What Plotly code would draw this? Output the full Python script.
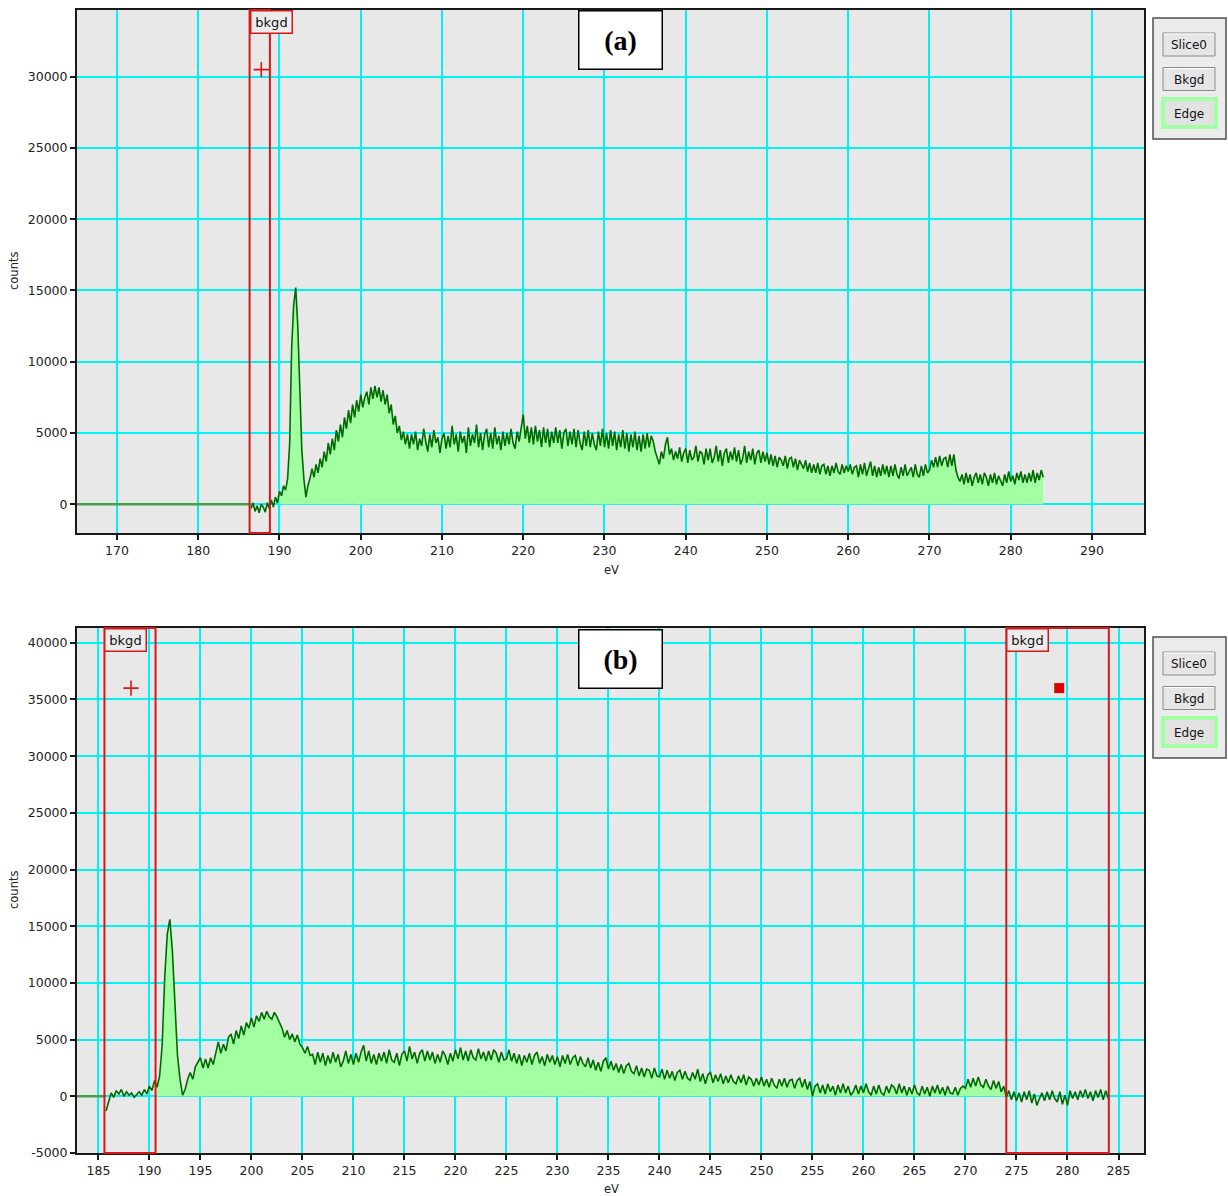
import numpy as np
import plotly.graph_objects as go

W, H = 1228, 1196          # target picture size
FIG_H = 1203               # figure height (capture is squeezed to H)

# ---------------- data ----------------
energy_step = 0.25

# panel (a): raw spectrum, first channel at 186.5 eV
energy_start_a = 186.5
counts_a = [
    -300, 100,
    -500, -100, -600, 0,
    -200, -550, 100, -300,
    300, -200, 500, 100,
    900, 600, 1300, 1000,
    1800, 4200, 11000, 14000,
    15200, 12500, 8200, 3800,
    1800, 500, 1300, 1800,
    2500, 1900, 2800, 2200,
    3200, 2600, 3700, 3000,
    4300, 3500, 4600, 3800,
    5200, 4400, 5600, 4700,
    6100, 5300, 6600, 5700,
    7000, 6100, 7300, 6500,
    7700, 6800, 7500, 7900,
    7000, 8200, 7400, 8300,
    7500, 8200, 7200, 8000,
    7000, 7700, 6400, 7000,
    5600, 6200, 5000, 5500,
    4500, 5100, 4200, 4900,
    3900, 4900, 4200, 5100,
    3800, 4600, 4100, 5300,
    4400, 3700, 4900, 4000,
    5200, 4300, 4700, 3600,
    4600, 5000, 3900, 4800,
    4000, 5500, 4200, 4900,
    3700, 5100, 4300, 4800,
    3600, 5400, 4100, 4900,
    4300, 5600, 4000, 5000,
    3800, 4900, 5300, 4000,
    5000, 3900, 5400, 4200,
    4800, 3800, 5100, 4100,
    5000, 4200, 5300, 4300,
    3900, 5100, 4400, 5400,
    6300, 4600, 5500, 4300,
    5400, 4200, 5500, 4400,
    5200, 4000, 5400, 4300,
    5300, 4000, 5100, 4300,
    5400, 4300, 5200, 3900,
    5000, 5300, 4100, 5100,
    4200, 5300, 4000, 5200,
    4300, 3800, 5100, 4100,
    5200, 4000, 5000, 4200,
    3800, 5100, 4100, 5300,
    4000, 5000, 3900, 5200,
    4100, 5100, 3800, 4900,
    4000, 5200, 3900, 5000,
    3700, 4900, 4000, 5100,
    3800, 4800, 3700, 4900,
    3900, 5000, 4000, 4800,
    4400, 3700, 3300, 2800,
    3700, 3200, 4200, 4700,
    3500, 3900, 3100, 3700,
    3200, 4000, 3000, 3600,
    3900, 2900, 3800, 3100,
    3300, 4100, 3000, 3700,
    3600, 2800, 3900, 3100,
    3900, 2900, 3300, 4100,
    3000, 3800, 2700, 3600,
    3900, 2900, 3700, 3100,
    4000, 3000, 3800, 2800,
    3200, 4100, 2900, 3700,
    3100, 3900, 2800, 3600,
    3800, 2900, 3700, 3000,
    3600, 2800, 3500, 2700,
    3400, 2600, 3300, 3100,
    2700, 3400, 2500, 3200,
    3300, 2600, 3200, 2400,
    3100, 2800, 2500, 3100,
    2300, 2900, 2200, 2800,
    2200, 2900, 2100, 2700,
    2800, 2100, 2700, 2000,
    2700, 2200, 2900, 2300,
    2100, 2800, 2200, 2700,
    2300, 2800, 2100, 2600,
    2700, 1900, 2800, 2100,
    2900, 2000, 2600, 3000,
    2000, 2700, 1900, 2600,
    2000, 2800, 2100, 2700,
    1900, 2700, 2000, 2800,
    2100, 1800, 2600, 2000,
    2800, 2000, 2300, 2600,
    1900, 2800, 2100, 1900,
    2700, 2000, 2800, 2200,
    2400, 3100, 2600, 3300,
    2600, 3400, 2700, 3200,
    3300, 2600, 3500, 2700,
    3500, 2400, 1900, 1600,
    2100, 1400, 2200, 1500,
    2100, 1300, 1900, 2200,
    1500, 2100, 1400, 2200,
    1900, 1300, 2100, 1500,
    2200, 1400, 2000, 1700,
    1300, 2100, 1500, 2300,
    1600, 2000, 1400, 2200,
    1700, 2300, 1500, 2100,
    1500, 2200, 1600, 2400,
    1500, 2200, 1700, 2400,
    1900,
]

# panel (b): background-subtracted spectrum, first channel at 185.75 eV
energy_start_b = 185.75
counts_b = [
    -1300,
    -400, 300, -100, 500,
    200, 600, 0, 400,
    100, 300, -100, 200,
    400, 100, 600, 200,
    900, 500, 1400, 800,
    1800, 4500, 10500, 14300,
    15600, 12800, 8000, 3600,
    1500, 100, 600, 1500,
    2100, 1500, 2600, 3000,
    3400, 2500, 3300, 2500,
    3400, 2800, 3900, 4800,
    3800, 4600, 4000, 5200,
    5500, 4600, 5800, 5100,
    6200, 5400, 6500, 6000,
    6900, 6100, 7100, 6600,
    7400, 6800, 7500, 7000,
    6800, 7400, 7000, 6500,
    6000, 5200, 5800, 5000,
    5500, 4800, 5400, 4600,
    4300, 3800, 4400, 3600,
    3700, 2800, 3900, 3000,
    3800, 2700, 3600, 2900,
    3900, 3000, 3700, 2600,
    3100, 4000, 2900, 3700,
    2800, 3800, 3000, 3900,
    4500, 3100, 4000, 2900,
    3700, 2800, 3800, 3100,
    3900, 2900, 4100, 3200,
    3000, 3800, 2700, 3700,
    4000, 3100, 4400, 3300,
    3900, 2900, 3800, 4100,
    3100, 4000, 3200, 3900,
    2900, 3700, 3000, 4000,
    3600, 2800, 3800, 3100,
    4100, 3300, 4300, 3200,
    4000, 3100, 4100, 3400,
    3200, 4200, 3300, 3900,
    3100, 4000, 3200, 4100,
    3800, 3000, 3900, 3200,
    3300, 4100, 3100, 3800,
    2900, 3700, 2700, 3600,
    3000, 3800, 2800, 3600,
    3900, 2900, 3500, 2700,
    3700, 3000, 3600, 2800,
    3500, 2600, 3600, 2900,
    3700, 2800, 3400, 3600,
    2700, 3500, 2900, 2600,
    3400, 2500, 3200, 2300,
    3000, 2200, 3100, 3400,
    2400, 3100, 2300, 2900,
    2100, 2800, 2000, 2700,
    2900, 2200, 2000, 2700,
    1800, 2500, 1700, 2400,
    2300, 1600, 2500, 1800,
    1700, 2400, 1500, 2300,
    1600, 2200, 1400, 2100,
    2300, 1500, 2200, 1600,
    1400, 2100, 1500, 2400,
    1300, 2000, 1100, 1900,
    2100, 1200, 1900, 1300,
    2000, 1100, 1800, 1200,
    1900, 1300, 1100, 1800,
    1200, 1900, 1000, 1700,
    1500, 900, 1600, 1000,
    1700, 900, 1500, 800,
    1600, 1000, 700, 1500,
    900, 1600, 800, 1400,
    1500, 700, 1400, 1600,
    800, 1500, 600, 1300,
    0, 900, 1100, 300,
    1000, 200, 1100, 400,
    900, 100, 1000, 300,
    1100, 300, 900, 100,
    400, 1000, 200, 900,
    300, 1100, 400, 100,
    900, 200, 1000, 300,
    100, 900, 300, 1000,
    800, 200, 1100, 300,
    900, 100, 800, 200,
    1000, 300, 100, 900,
    200, 800, 0, 900,
    300, 1000, 200, 800,
    100, 900, 300, 200,
    800, 100, 700, 900,
    700, 1500, 800, 1600,
    900, 1700, 1000, 800,
    1500, 900, 600, 1400,
    700, 1300, 400, 900,
    -100, 500, -300, 400,
    -400, 300, -500, 400,
    -300, 500, -600, 200,
    -800, -200, 300, -400,
    400, -300, 500, -200,
    -500, 400, -700, 100,
    -800, 500, -200, 400,
    -300, 500, -100, 600,
    -200, 400, -400, 500,
    -100, 600, -300, 500,
    -200,
]

# flat zero segment drawn before the first channel
flat_zero_a = [160.0, 186.5]
flat_zero_b = [180.0, 185.75]

# edge (filled) energy windows
edge_window_a = [190.0, 284.5]
edge_window_b = [190.6, 274.05]

# background windows
bkgd_windows_a = [[186.32, 188.82]]
bkgd_windows_b = [[185.59, 190.6], [274.0, 284.05]]

# cursor markers
cursor_plus_a = [187.76, 30500]
cursor_plus_b = [188.19, 36000]
cursor_square_b = [279.19, 36000]

# ticks
xticks_a = list(range(170, 300, 10))
yticks_a = list(range(0, 35000, 5000))
xticks_b = list(range(185, 290, 5))
yticks_b = list(range(-5000, 45000, 5000))

panel_labels = ["(a)", "(b)"]
button_labels = ["Slice0", "Bkgd", "Edge"]

# ---------------- styles ----------------
LINE_GREEN = "#006a00"
FLAT_GREEN = "#4aa04a"
FILL_GREEN = "#a2ffa2"
GRID = "#00f2f2"
RED = "#d81818"
TICKFONT = dict(family="DejaVu Sans", size=12.5, color="#222222")


def px_x(p):
    return p / W


def px_y(p):
    return 1 - p / H


fig = go.Figure()


def add_panel(xs_start, counts, flat, window, xa, ya):
    xs = xs_start + energy_step * np.arange(len(counts))
    ys = np.array(counts, dtype=float)
    m = (xs >= window[0]) & (xs <= window[1])
    fig.add_trace(go.Scatter(x=xs[m], y=ys[m], mode="lines", fill="tozeroy",
                             fillcolor=FILL_GREEN, line=dict(width=0, color=FILL_GREEN),
                             xaxis=xa, yaxis=ya, hoverinfo="skip", showlegend=False))
    fig.add_trace(go.Scatter(x=flat, y=[0, 0], mode="lines",
                             line=dict(color=FLAT_GREEN, width=2.5),
                             xaxis=xa, yaxis=ya, hoverinfo="skip", showlegend=False))
    fig.add_trace(go.Scatter(x=xs, y=ys, mode="lines",
                             line=dict(color=LINE_GREEN, width=1.6),
                             xaxis=xa, yaxis=ya, showlegend=False))


add_panel(energy_start_a, counts_a, flat_zero_a, edge_window_a, "x", "y")
add_panel(energy_start_b, counts_b, flat_zero_b, edge_window_b, "x2", "y2")

# cursor markers
plus_marker = dict(symbol="cross-thin", size=11, line=dict(color=RED, width=1.6), color=RED)
fig.add_trace(go.Scatter(x=[cursor_plus_a[0]], y=[cursor_plus_a[1]], mode="markers",
                         marker=plus_marker, xaxis="x", yaxis="y", showlegend=False))
fig.add_trace(go.Scatter(x=[cursor_plus_b[0]], y=[cursor_plus_b[1]], mode="markers",
                         marker=plus_marker, xaxis="x2", yaxis="y2", showlegend=False))
fig.add_trace(go.Scatter(x=[cursor_square_b[0]], y=[cursor_square_b[1]], mode="markers",
                         marker=dict(symbol="square", size=10, color="#dd0000"),
                         xaxis="x2", yaxis="y2", showlegend=False))


def axis_style(rng, ticks, dom, anchor):
    return dict(domain=dom, range=rng, tickvals=ticks, ticktext=[str(t) for t in ticks],
                showgrid=True, gridcolor=GRID,
                gridwidth=1.6, zeroline=False, showline=True, linecolor="#1a1a1a",
                linewidth=2, mirror=True, ticks="outside", ticklen=5, tickwidth=1.5,
                tickcolor="#1a1a1a", tickfont=TICKFONT, anchor=anchor, fixedrange=True)


xdom = [px_x(77), px_x(1144)]
ydom_a = [px_y(533), px_y(10)]
ydom_b = [px_y(1153), px_y(628)]

shapes = []
annotations = []


def add_bkgd(windows, xref, yref):
    for lo, hi in windows:
        shapes.append(dict(type="rect", xref=xref, yref=yref + " domain", x0=lo, x1=hi,
                           y0=0, y1=1, line=dict(color=RED, width=2), layer="above"))
        annotations.append(dict(text="bkgd", xref=xref, yref=yref + " domain", x=lo, y=1,
                                xanchor="left", yanchor="top", showarrow=False,
                                font=dict(family="DejaVu Sans", size=13, color="#111111"),
                                bgcolor="#ececec", bordercolor=RED, borderwidth=1.5,
                                borderpad=1, width=38, height=19))


add_bkgd(bkgd_windows_a, "x", "y")
add_bkgd(bkgd_windows_b, "x2", "y2")

# panel letters and axis titles / side button panels
for i, off in enumerate([0, 619]):
    annotations.append(dict(text="<b>%s</b>" % panel_labels[i], xref="paper", yref="paper",
                            x=px_x(620), y=px_y(40 + off), xanchor="center", yanchor="middle",
                            showarrow=False,
                            font=dict(family="Liberation Serif", size=28, color="#000000"),
                            bgcolor="#ffffff", bordercolor="#000000", borderwidth=1.5,
                            width=80, height=55, borderpad=1))
    annotations.append(dict(text="counts", xref="paper", yref="paper", x=px_x(14),
                            y=px_y(271 + off), textangle=-90, showarrow=False,
                            xanchor="center", yanchor="middle",
                            font=dict(family="DejaVu Sans", size=11.5, color="#222222")))
    annotations.append(dict(text="eV", xref="paper", yref="paper", x=px_x(611),
                            y=px_y(570 + off), showarrow=False,
                            xanchor="center", yanchor="middle",
                            font=dict(family="DejaVu Sans", size=11.5, color="#222222")))
    # side panel
    shapes.append(dict(type="rect", xref="paper", yref="paper", x0=px_x(1153), x1=px_x(1226),
                       y0=px_y(139 + off), y1=px_y(18 + off), fillcolor="#ececec",
                       line=dict(color="#505050", width=1.5)))
    for j, lab in enumerate(button_labels):
        cy = 44 + 34.5 * j + off
        if lab == "Edge":
            shapes.append(dict(type="rect", xref="paper", yref="paper",
                               x0=px_x(1161), x1=px_x(1218), y0=px_y(cy + 16), y1=px_y(cy - 16),
                               fillcolor="#a2ffa2", line=dict(width=0)))
            shapes.append(dict(type="rect", xref="paper", yref="paper",
                               x0=px_x(1165), x1=px_x(1214), y0=px_y(cy + 12), y1=px_y(cy - 12),
                               fillcolor="#e2e2e2", line=dict(width=0)))
        else:
            shapes.append(dict(type="rect", xref="paper", yref="paper",
                               x0=px_x(1163), x1=px_x(1215), y0=px_y(cy + 12), y1=px_y(cy - 11),
                               fillcolor="#e6e6e6", line=dict(color="#8a8a8a", width=1)))
            shapes.append(dict(type="line", xref="paper", yref="paper",
                               x0=px_x(1164), x1=px_x(1214), y0=px_y(cy - 10), y1=px_y(cy - 10),
                               line=dict(color="#ffffff", width=1)))
        annotations.append(dict(text=lab, xref="paper", yref="paper", x=px_x(1189),
                                y=px_y(cy + 1), showarrow=False, xanchor="center",
                                yanchor="middle",
                                font=dict(family="DejaVu Sans", size=12, color="#111111")))

fig.update_layout(
    width=W, height=FIG_H, margin=dict(l=0, r=0, t=0, b=0),
    paper_bgcolor="#ffffff", plot_bgcolor="#e8e8e8",
    xaxis=axis_style([165.08, 296.4], xticks_a, xdom, "y"),
    yaxis=axis_style([-2015, 34680], yticks_a, ydom_a, "x"),
    xaxis2=axis_style([182.9, 287.5], xticks_b, xdom, "y2"),
    yaxis2=axis_style([-5000, 41300], yticks_b, ydom_b, "x2"),
    shapes=shapes, annotations=annotations, showlegend=False,
)

fig.write_html(
    "out.html",
    config={"displayModeBar": False},
    post_script=(
        "var d=document.getElementById('{plot_id}');d.style.display='block';"
        "document.body.style.margin='0px';document.body.style.overflow='hidden';"
        "document.documentElement.style.overflow='hidden';"
    ),
)
